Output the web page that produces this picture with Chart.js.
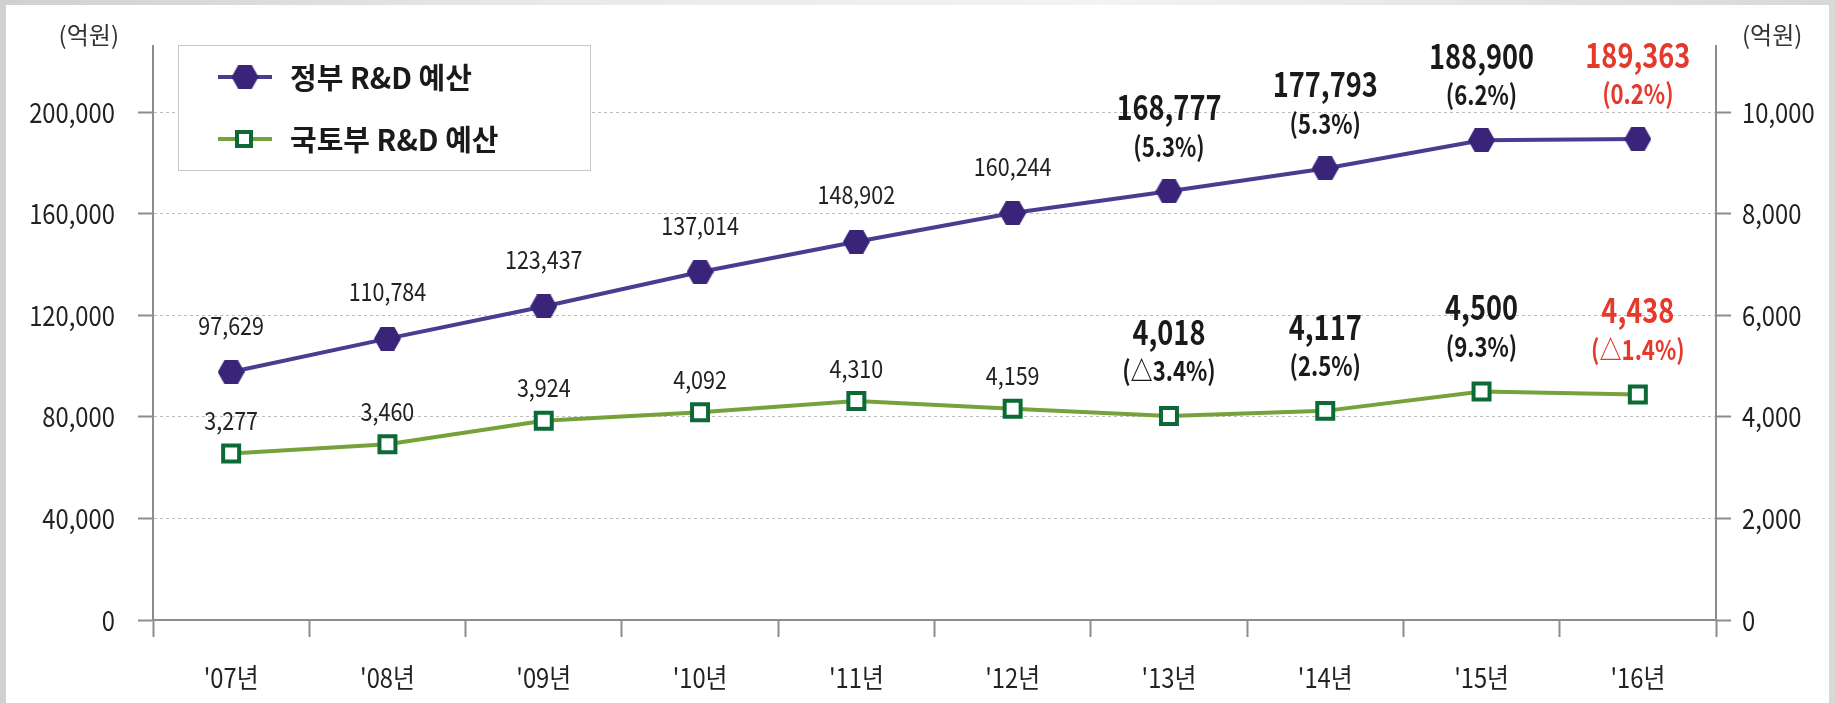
<!DOCTYPE html>
<html>
<head>
<meta charset="utf-8">
<script src="https://cdn.jsdelivr.net/npm/chart.js@4.4.1/dist/chart.umd.min.js"></script>
<style>
  html, body { margin: 0; padding: 0; background: #fff; }
  #frame { position: relative; width: 1835px; height: 703px; overflow: hidden;
    background: linear-gradient(90deg, #d0d0d0 0%, #e9e9e9 30%, #f3f3f3 60%, #d8d8d8 100%); }
  #paper { position: absolute; left: 6px; top: 5px; right: 6px; bottom: 0; background: #fff; }
  canvas { position: absolute; left: 0; top: 0; }
</style>
</head>
<body>
<div id="frame"><div id="paper"></div><canvas id="rnd" width="1835" height="703"></canvas></div>
<script>
// 정부 / 국토부 R&D 예산 추이 (단위: 억원)
const years = ["'07년", "'08년", "'09년", "'10년", "'11년", "'12년", "'13년", "'14년", "'15년", "'16년"];
const govBudget = [97629, 110784, 123437, 137014, 148902, 160244, 168777, 177793, 188900, 189363];
const molitBudget = [3277, 3460, 3924, 4092, 4310, 4159, 4018, 4117, 4500, 4438];
// 증가율 (최근 4개년만 표시)
const govGrowth = ['', '', '', '', '', '', '(5.3%)', '(5.3%)', '(6.2%)', '(0.2%)'];
const molitGrowth = ['', '', '', '', '', '', '(△3.4%)', '(2.5%)', '(9.3%)', '(△1.4%)'];
const leftTicks = [0, 40000, 80000, 120000, 160000, 200000];
const rightTicks = [0, 2000, 4000, 6000, 8000, 10000];

const AXIS = '#8c8c8c';
const GRID = '#bcbcbc';
const RED = '#e5392c';
const kr = '"Noto Sans CJK KR", sans-serif';

// hexagon marker (pointy left/right)
function hexagon(w, h, color) {
  const c = document.createElement('canvas');
  c.width = w; c.height = h;
  const g = c.getContext('2d');
  g.fillStyle = color;
  g.beginPath();
  g.moveTo(0, h / 2);
  g.lineTo(w * 0.25, 0);
  g.lineTo(w * 0.75, 0);
  g.lineTo(w, h / 2);
  g.lineTo(w * 0.75, h);
  g.lineTo(w * 0.25, h);
  g.closePath();
  g.fill();
  return c;
}
const hexMark = hexagon(27, 24, '#3a2479');

const fmt = v => v.toLocaleString('en-US');

// the source uses a condensed face, so squeeze the text horizontally
function condensed(ctx, text, x, y, font, color, align, sx) {
  ctx.save();
  ctx.font = font;
  ctx.fillStyle = color;
  ctx.textAlign = align;
  ctx.textBaseline = 'middle';
  ctx.translate(x, y);
  ctx.scale(sx, 1);
  ctx.fillText(text, 0, 0);
  ctx.restore();
}

// value labels above the points
const pointLabels = {
  id: 'pointLabels',
  afterDatasetsDraw(chart) {
    const ctx = chart.ctx;
    chart.data.datasets.forEach((ds, di) => {
      const growth = di === 0 ? govGrowth : molitGrowth;
      chart.getDatasetMeta(di).data.forEach((pt, i) => {
        const txt = fmt(ds.data[i]);
        if (!growth[i]) {
          condensed(ctx, txt, pt.x, pt.y - (di === 0 ? 47 : 33), '25px ' + kr, '#222', 'center', 0.86);
        } else {
          const col = i === years.length - 1 ? RED : '#1a1a1a';
          condensed(ctx, txt, pt.x, pt.y - (di === 0 ? 84 : 84), 'bold 34px ' + kr, col, 'center', 0.8);
          condensed(ctx, growth[i], pt.x, pt.y - (di === 0 ? 45 : 45), 'bold 27px ' + kr, col, 'center', 0.82);
        }
      });
    });
  }
};

// tick labels, unit captions and the boxed legend
const axisText = {
  id: 'axisText',
  afterDraw(chart) {
    const { ctx, chartArea, scales } = chart;
    scales.yGov.ticks.forEach(t => condensed(ctx, fmt(t.value), chartArea.left - 38,
      scales.yGov.getPixelForValue(t.value), '28px ' + kr, '#222', 'right', 0.85));
    scales.yMolit.ticks.forEach(t => condensed(ctx, fmt(t.value), chartArea.right + 26,
      scales.yMolit.getPixelForValue(t.value), '28px ' + kr, '#222', 'left', 0.85));
    scales.x.ticks.forEach((t, i) => condensed(ctx, years[i], scales.x.getPixelForTick(i),
      chartArea.bottom + 58, '27px ' + kr, '#222', 'center', 0.88));

    condensed(ctx, '(억원)', chartArea.left - 34, 35, '24px ' + kr, '#333', 'right', 1);
    condensed(ctx, '(억원)', chartArea.right + 26, 35, '24px ' + kr, '#333', 'left', 1);

    const ds = chart.data.datasets;
    ctx.save();
    ctx.fillStyle = '#fff';
    ctx.fillRect(178, 45, 413, 126);
    ctx.strokeStyle = '#c8c8c8';
    ctx.lineWidth = 1;
    ctx.strokeRect(178.5, 45.5, 412, 125);
    [77, 139].forEach((y, i) => {
      ctx.strokeStyle = ds[i].borderColor;
      ctx.lineWidth = 4;
      ctx.beginPath();
      ctx.moveTo(218, y);
      ctx.lineTo(272, y);
      ctx.stroke();
      if (i === 0) {
        ctx.drawImage(hexMark, 245 - hexMark.width / 2, y - hexMark.height / 2);
      } else {
        ctx.fillStyle = '#fff';
        ctx.fillRect(237, y - 7, 14, 14);
        ctx.strokeStyle = ds[i].pointBorderColor;
        ctx.lineWidth = 4;
        ctx.strokeRect(237, y - 7, 14, 14);
      }
      ctx.fillStyle = '#1a1a1a';
      ctx.font = 'bold 29px ' + kr;
      ctx.textAlign = 'left';
      ctx.textBaseline = 'middle';
      ctx.fillText(ds[i].label, 290, y + 1);
    });
    ctx.restore();
  }
};

new Chart(document.getElementById('rnd'), {
  type: 'line',
  data: {
    labels: years,
    datasets: [{
      label: '정부 R&D 예산',
      data: govBudget,
      yAxisID: 'yGov',
      borderColor: '#4b3c8f',
      borderWidth: 4,
      pointStyle: hexMark,
      pointRadius: 13,
      tension: 0
    }, {
      label: '국토부 R&D 예산',
      data: molitBudget,
      yAxisID: 'yMolit',
      borderColor: '#76a23a',
      borderWidth: 4,
      pointStyle: 'rect',
      pointRadius: 11.3,
      pointBackgroundColor: '#fff',
      pointBorderColor: '#0b6a35',
      pointBorderWidth: 4,
      tension: 0
    }]
  },
  options: {
    responsive: false,
    animation: false,
    layout: { padding: { top: 46 } },
    plugins: {
      legend: { display: false },
      tooltip: { enabled: false }
    },
    scales: {
      x: {
        offset: true,
        grid: { offset: true, drawOnChartArea: false, color: AXIS, tickColor: AXIS, tickWidth: 2, tickLength: 17 },
        border: { color: AXIS, width: 2 },
        ticks: { display: false, autoSkip: false },
        afterFit(s) { s.height = 83; }
      },
      yGov: {
        position: 'left',
        min: 0,
        max: 226000,
        afterBuildTicks(s) { s.ticks = leftTicks.map(v => ({ value: v })); },
        grid: {
          color: c => (c.tick && c.tick.value === 0 ? 'rgba(0,0,0,0)' : GRID),
          lineWidth: 1,
          tickColor: AXIS,
          tickWidth: 2,
          tickLength: 15,
          tickBorderDash: []
        },
        border: { color: AXIS, width: 2, dash: [3, 3] },
        ticks: { display: false },
        afterFit(s) { s.width = 153; }
      },
      yMolit: {
        position: 'right',
        min: 0,
        max: 11300,
        afterBuildTicks(s) { s.ticks = rightTicks.map(v => ({ value: v })); },
        grid: { drawOnChartArea: false, tickColor: AXIS, tickWidth: 2, tickLength: 15 },
        border: { color: AXIS, width: 2 },
        ticks: { display: false },
        afterFit(s) { s.width = 119; }
      }
    }
  },
  plugins: [pointLabels, axisText]
});
</script>
</body>
</html>
